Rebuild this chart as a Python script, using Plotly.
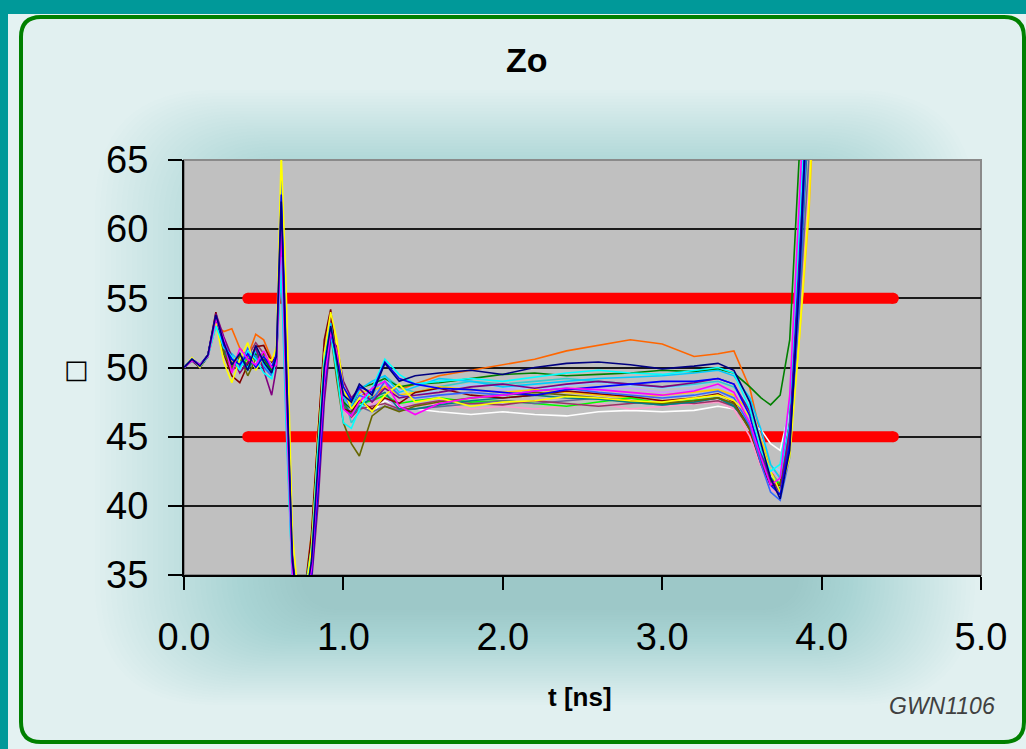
import plotly.graph_objects as go

# ---------------- data ----------------
t_ns = [0.00, 0.05, 0.10, 0.15, 0.20, 0.25, 0.30, 0.35, 0.40, 0.45, 0.50, 0.55, 0.58, 0.61,
        0.64, 0.68, 0.72, 0.76, 0.80, 0.84, 0.88, 0.92, 0.96, 1.00, 1.05, 1.10, 1.18, 1.26,
        1.35, 1.45, 1.60, 1.80, 2.00, 2.20, 2.40, 2.60, 2.80, 3.00, 3.20, 3.35, 3.45, 3.55,
        3.62, 3.68, 3.74, 3.80, 3.86, 3.92, 3.98]

zo_navy = [50.0,50.6,50.1,50.9,53.8,51.8,50.2,51.0,49.8,51.6,50.4,49.6,50.8,62.0,50.0,36.0,32.0,33.0,36.0,43.0,50.0,53.0,50.5,48.0,47.5,48.8,48.0,50.3,49.0,49.4,49.6,49.8,49.5,50.0,50.3,50.4,50.2,49.9,50.1,50.3,49.8,47.5,44.5,42.0,40.5,44.0,56.0,72.0,88.0]
zo_magenta = [50.0,50.5,50.2,50.8,53.5,52.0,49.6,51.4,50.6,50.2,51.2,50.0,50.2,60.0,48.0,35.0,31.5,32.5,35.5,42.0,49.0,52.6,51.0,47.0,46.5,47.5,48.5,49.0,47.2,46.6,47.4,47.8,48.0,48.3,48.5,48.4,48.2,48.0,48.3,48.8,48.2,46.0,43.5,41.5,42.0,48.0,62.0,76.0,90.0]
zo_yellow = [50.0,50.7,50.0,50.9,53.2,50.4,48.9,50.6,51.8,49.8,50.8,50.5,51.5,65.5,56.0,38.0,33.0,33.5,37.0,44.0,51.0,54.0,52.0,48.5,47.0,47.8,46.8,48.0,48.8,47.5,47.8,47.2,47.5,47.6,47.9,47.8,47.6,47.5,47.8,48.0,47.6,46.5,44.5,42.5,41.0,43.5,52.0,62.0,78.0]
zo_cyan = [50.0,50.6,50.1,50.8,53.0,51.5,50.8,49.8,51.2,50.6,49.6,49.2,50.6,58.0,47.0,34.5,32.0,33.0,36.0,44.0,50.5,52.5,49.5,46.0,45.6,47.0,48.5,50.6,49.5,48.8,49.0,49.2,49.0,49.3,49.6,49.8,49.6,49.5,49.8,50.0,49.6,47.0,44.0,42.5,43.0,47.5,60.0,74.0,88.0]
zo_purple = [50.0,50.5,50.0,50.9,53.9,52.2,50.8,49.6,50.4,51.4,49.8,48.0,50.0,61.0,52.0,36.5,32.0,32.0,34.5,40.0,47.5,52.0,51.5,49.0,47.8,48.5,47.5,48.5,47.8,48.0,48.2,48.6,48.8,48.5,48.8,49.0,48.8,48.6,48.9,49.2,48.8,46.8,44.0,42.0,41.0,45.5,58.0,73.0,88.0]
zo_darkred = [50.0,50.6,50.1,50.9,54.0,51.0,49.4,48.9,50.2,51.5,51.6,50.4,50.8,59.0,49.0,35.5,32.5,34.0,38.0,45.0,52.0,54.2,50.0,47.0,46.8,47.6,47.0,47.8,47.4,48.2,48.5,48.0,47.8,48.0,48.3,48.1,47.9,47.6,47.8,48.1,47.5,45.5,43.0,41.5,41.5,46.0,59.0,74.0,88.0]
zo_teal = [50.0,50.6,50.1,50.8,53.4,51.2,50.0,50.6,49.8,50.8,51.0,49.6,50.4,60.5,50.5,35.0,31.5,33.0,36.5,43.5,50.0,52.8,50.0,47.5,46.5,47.2,47.8,48.2,47.0,47.0,47.3,47.6,47.8,48.0,47.8,47.7,47.5,47.3,47.5,47.8,47.2,45.8,43.8,42.0,41.2,44.5,55.0,66.0,82.0]
zo_blue = [50.0,50.6,50.2,50.9,53.7,51.6,50.6,50.2,51.0,50.0,50.8,50.0,51.0,62.5,51.0,36.0,32.0,32.5,35.0,41.0,48.5,52.5,50.8,48.6,47.6,48.6,48.2,50.4,49.2,48.8,48.5,48.4,48.2,48.0,48.4,48.6,48.8,49.0,49.0,49.2,48.8,46.5,43.5,41.5,40.8,44.5,57.0,72.0,88.0]
zo_skyblue = [50.0,50.5,50.1,50.8,53.1,51.4,51.0,50.4,50.0,51.2,50.2,49.4,50.8,57.0,46.0,34.5,32.5,34.0,37.0,44.0,51.0,53.2,50.5,47.8,47.2,48.4,49.0,49.4,48.2,48.6,49.2,49.0,48.6,48.8,49.0,49.2,49.3,49.4,49.6,49.8,49.4,47.8,45.5,43.0,42.0,46.0,58.0,72.0,86.0]
zo_white = [50.0,50.6,50.0,50.9,53.3,51.8,50.5,50.0,51.0,50.4,50.4,49.8,51.2,60.0,49.5,35.0,32.0,33.5,37.5,45.5,51.5,53.4,51.5,48.0,46.5,47.4,46.8,47.6,47.2,47.0,46.8,46.6,46.8,46.6,46.5,46.8,46.9,46.8,46.9,47.2,47.0,46.0,45.5,44.5,44.0,47.0,58.0,68.0,82.0]
zo_orange = [50.0,50.6,50.1,50.8,53.0,52.6,52.8,51.4,50.8,52.4,52.0,50.6,51.0,58.5,47.5,35.5,32.5,33.5,37.0,43.5,50.5,53.0,49.5,47.8,47.6,48.2,47.8,48.6,48.4,48.8,49.4,49.8,50.2,50.6,51.2,51.6,52.0,51.7,50.8,51.0,51.2,48.5,45.0,42.5,41.5,44.5,56.0,71.0,86.0]
zo_olive = [50.0,50.6,50.1,50.9,53.5,51.0,50.0,50.8,49.4,50.6,51.0,50.0,50.6,59.5,50.0,35.5,32.5,33.0,36.0,43.0,49.5,52.5,49.0,46.0,44.5,43.6,46.5,47.2,46.8,47.2,47.5,47.8,48.0,48.2,48.0,47.8,47.6,47.4,47.6,47.8,47.4,45.5,43.2,41.8,41.5,46.0,59.0,74.0,88.0]
zo_green = [50.0,50.5,50.0,50.8,53.6,51.6,50.2,51.0,50.0,51.0,50.6,49.8,50.6,61.0,50.0,35.0,32.0,33.5,37.0,44.5,50.5,52.8,50.0,47.5,47.0,48.5,48.8,49.2,48.6,48.8,48.9,49.2,49.5,49.6,49.4,49.5,49.6,49.8,49.7,49.9,49.6,48.6,47.8,47.3,48.0,52.0,63.0,78.0,92.0]
zo_lime = [50.0,50.6,50.1,50.9,53.4,51.2,50.6,50.2,50.6,51.0,50.2,49.8,50.6,59.0,48.5,35.0,32.0,33.0,36.5,43.0,50.0,52.6,49.8,47.2,46.6,47.4,47.6,48.0,47.4,47.6,47.8,47.5,47.6,47.4,47.2,47.5,47.8,47.4,47.6,47.8,47.3,45.8,43.6,42.0,41.6,45.0,57.5,72.0,88.0]
zo_lavender = [50.0,50.6,50.1,50.8,53.2,51.4,50.4,50.6,50.2,50.6,50.8,49.6,50.8,60.0,49.0,35.5,32.5,33.5,37.0,44.5,51.0,53.0,50.5,47.8,46.8,47.5,47.2,47.8,47.0,47.6,48.0,48.2,48.4,48.6,48.2,48.4,48.5,48.2,48.4,48.6,48.2,46.5,44.2,42.6,42.0,45.5,55.0,64.0,80.0]
zo_rose = [50.0,50.6,50.1,50.9,53.6,51.8,50.8,49.8,50.8,51.2,50.6,49.8,50.4,58.0,47.5,34.5,32.0,33.0,36.0,43.0,50.0,52.4,49.6,47.0,46.2,47.0,47.4,47.8,47.6,47.2,47.4,47.0,47.2,47.0,47.2,47.4,47.0,47.2,47.4,47.5,47.0,45.0,42.8,41.2,40.8,44.0,53.0,63.0,78.0]
zo_paleblue = [50.0,50.5,50.1,50.8,53.3,51.0,50.0,50.6,51.2,50.2,51.0,50.2,50.8,61.5,50.5,35.5,32.0,33.0,36.0,42.5,49.5,52.5,51.0,48.5,47.6,48.0,48.6,49.0,48.4,48.0,48.4,48.8,48.6,48.4,48.7,48.9,48.7,48.5,48.7,49.0,48.6,47.2,45.0,43.0,42.5,46.5,59.5,75.0,90.0]
zo_royal = [50.0,50.6,50.1,50.9,53.8,52.0,50.6,50.0,51.4,50.8,50.0,49.4,50.6,63.5,52.5,36.5,32.5,33.0,35.5,42.0,49.0,52.8,50.8,48.2,47.0,48.0,47.6,49.0,48.0,47.8,48.0,48.2,48.0,48.3,48.5,48.2,48.0,47.8,48.0,48.3,47.8,45.8,43.0,41.0,40.4,43.5,55.0,69.0,85.0]
zo_plum = [50.0,50.6,50.0,50.8,53.5,51.4,49.8,50.2,50.8,51.8,51.0,49.6,50.6,60.5,49.5,35.0,32.0,33.5,37.5,45.0,51.5,53.6,50.5,47.4,46.4,47.0,47.2,47.4,47.0,47.3,47.6,47.4,47.3,47.6,47.4,47.2,47.4,47.6,47.4,47.6,47.2,45.6,43.4,41.8,41.2,45.0,57.5,72.0,88.0]
zo_gold = [50.0,50.6,50.1,50.9,53.2,51.6,50.4,51.0,50.4,50.8,50.6,50.0,51.0,59.5,49.0,35.0,32.5,34.0,38.0,45.5,51.5,53.8,51.2,48.6,47.4,48.2,48.4,48.6,48.0,48.2,48.6,48.4,48.2,48.4,48.2,48.0,47.8,48.0,48.2,48.4,48.0,46.8,44.8,43.0,42.0,44.5,52.0,61.0,76.0]
zo_aqua = [50.0,50.5,50.1,50.8,53.4,51.8,50.6,50.4,50.6,51.0,50.4,49.6,50.8,61.0,50.5,35.5,32.0,33.0,36.0,43.0,50.0,52.8,50.6,48.0,46.0,46.8,48.0,49.4,48.6,48.2,48.6,49.0,48.8,49.0,49.2,49.0,48.8,48.6,48.8,49.0,48.6,47.0,44.6,42.4,41.5,45.0,57.0,72.0,88.0]
zo_slate = [50.0,50.6,50.1,50.9,53.6,51.2,50.2,50.6,50.2,51.0,50.8,49.8,50.6,60.0,49.5,35.0,32.0,33.5,37.0,44.0,50.5,53.0,50.2,47.6,46.6,47.2,46.8,47.2,46.9,47.0,47.2,47.4,47.6,47.4,47.6,47.8,47.5,47.3,47.5,47.8,47.3,45.6,43.2,41.6,41.0,44.8,54.0,65.0,82.0]

series = [
    ("#FF6600", zo_orange), ("#FFFFFF", zo_white), ("#CC99FF", zo_lavender),
    ("#FF99CC", zo_rose), ("#99CCFF", zo_paleblue), ("#33CCCC", zo_aqua),
    ("#FFCC00", zo_gold), ("#00FF00", zo_lime), ("#666699", zo_slate),
    ("#993366", zo_plum), ("#008080", zo_teal), ("#800000", zo_darkred),
    ("#666600", zo_olive), ("#008000", zo_green), ("#00CCFF", zo_skyblue),
    ("#3366FF", zo_royal), ("#800080", zo_purple), ("#FFFF00", zo_yellow),
    ("#00FFFF", zo_cyan), ("#0000FF", zo_blue), ("#FF00FF", zo_magenta),
    ("#000080", zo_navy),
]

limit_t = [0.40, 4.45]
limit_upper = [55, 55]
limit_lower = [45, 45]

x_ticks = [0, 1, 2, 3, 4, 5]
y_ticks = [35, 40, 45, 50, 55, 60, 65]

# ---------------- layout helpers (pixel -> paper) ----------------
L, R, T, B = 184, 981, 160, 575
W, H = 1026, 749


def px(x):
    return (x - L) / (R - L)


def py(y):
    return (B - y) / (B - T)


def rrect(x0, y0, x1, y1, r):
    pts = [
        ("M", [(x0 + r, y0)]), ("L", [(x1 - r, y0)]), ("Q", [(x1, y0), (x1, y0 + r)]),
        ("L", [(x1, y1 - r)]), ("Q", [(x1, y1), (x1 - r, y1)]), ("L", [(x0 + r, y1)]),
        ("Q", [(x0, y1), (x0, y1 - r)]), ("L", [(x0, y0 + r)]), ("Q", [(x0, y0), (x0 + r, y0)]),
    ]
    s = ""
    for cmd, ps in pts:
        s += cmd + " " + " ".join(f"{px(a):.5f},{py(b):.5f}" for a, b in ps) + " "
    return s + "Z"


fig = go.Figure()

for lim in (limit_upper, limit_lower):
    fig.add_trace(go.Scatter(
        x=limit_t, y=lim, mode="lines+markers",
        line=dict(color="#FF0000", width=11),
        marker=dict(color="#FF0000", size=11, line=dict(width=0)),
        showlegend=False, hoverinfo="skip"))

for color, vals in series:
    fig.add_trace(go.Scatter(
        x=t_ns, y=vals, mode="lines",
        line=dict(color=color, width=1.6),
        showlegend=False, hoverinfo="skip"))

shapes = []
# teal outer strips
shapes.append(dict(type="rect", xref="paper", yref="paper", x0=px(0), x1=px(W), y0=py(0), y1=py(14),
                   fillcolor="#009999", line=dict(width=0), layer="below"))
shapes.append(dict(type="rect", xref="paper", yref="paper", x0=px(0), x1=px(8), y0=py(0), y1=py(H),
                   fillcolor="#009999", line=dict(width=0), layer="below"))
# rounded panel
shapes.append(dict(type="path", xref="paper", yref="paper", path=rrect(21, 17, 1024, 742, 20),
                   fillcolor="#E1F0F0", line=dict(color="#008000", width=4), layer="below"))
# soft glow behind the plot
n = 40
for i in range(n):
    f = i / (n - 1)
    x0 = 95 + (300 - 95) * f
    x1 = 975 - (975 - 800) * f
    y0 = 90 + (205 - 90) * f
    y1 = 705 - (705 - 610) * f
    r = 120 - 80 * f
    shapes.append(dict(type="path", xref="paper", yref="paper", path=rrect(x0, y0, x1, y1, r),
                       fillcolor="rgba(100,158,158,0.012)", line=dict(width=0), layer="below"))
# plot area
shapes.append(dict(type="rect", xref="x domain", yref="y domain", x0=0, x1=1, y0=0, y1=1,
                   fillcolor="#C0C0C0", line=dict(color="#8A8A8A", width=2), layer="below"))

fig.update_layout(
    width=W, height=H,
    margin=dict(l=L, r=W - R, t=T, b=H - B, pad=0),
    paper_bgcolor="#E4F2F2",
    plot_bgcolor="#C0C0C0",
    font=dict(family="Liberation Sans, Arial, sans-serif", color="#000000"),
    shapes=shapes,
    showlegend=False,
    xaxis=dict(range=[0, 5], tickvals=x_ticks, ticktext=[f"{v:.1f}" for v in x_ticks],
               showgrid=False, zeroline=False, showline=True, linecolor="#000000", linewidth=2,
               ticks="outside", ticklen=13, tickwidth=2, tickcolor="#000000",
               tickfont=dict(size=38), ticklabelstandoff=14),
    yaxis=dict(range=[35, 65], tickvals=y_ticks, showgrid=True, gridcolor="#1A1A1A", gridwidth=2,
               zeroline=False, showline=True, linecolor="#000000", linewidth=2,
               ticks="outside", ticklen=14, tickwidth=2, tickcolor="#000000",
               tickfont=dict(size=38), ticklabelstandoff=12),
    annotations=[
        dict(text="<b>Zo</b>", xref="paper", yref="paper", x=px(527), y=py(60),
             showarrow=False, font=dict(size=34), xanchor="center", yanchor="middle"),
        dict(text="<b>t [ns]</b>", xref="paper", yref="paper", x=px(580), y=py(697),
             showarrow=False, font=dict(size=26), xanchor="center", yanchor="middle"),
        dict(text="<i>GWN1106</i>", xref="paper", yref="paper", x=px(942), y=py(706),
             showarrow=False, font=dict(size=23, color="#404040"), xanchor="center", yanchor="middle"),
        dict(text="□", xref="paper", yref="paper", x=px(76), y=py(369),
             showarrow=False, font=dict(size=26, family="DejaVu Sans"), xanchor="center", yanchor="middle"),
    ],
)

fig.write_html("out.html")
